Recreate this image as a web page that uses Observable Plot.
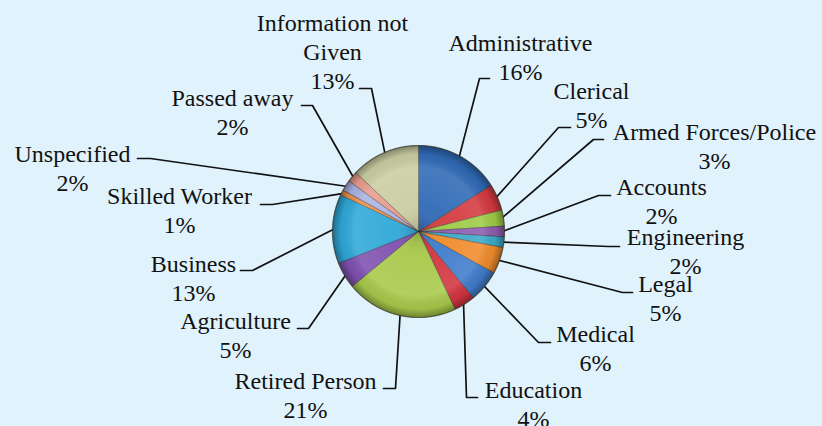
<!DOCTYPE html>
<html>
<head>
<meta charset="utf-8">
<script src="https://cdn.jsdelivr.net/npm/d3@7"></script>
<script src="https://cdn.jsdelivr.net/npm/@observablehq/plot@0.6"></script>
<style>
  html, body { margin: 0; padding: 0; background: #E0F2FC; font-family: "Liberation Serif", serif; }
  #chart { width: 822px; height: 426px; }
</style>
</head>
<body>
<div id="chart"></div>
<script>
// ---- data ----
const categories = ["Administrative", "Clerical", "Armed Forces/Police", "Accounts", "Engineering",
  "Legal", "Medical", "Education", "Retired Person", "Agriculture", "Business",
  "Skilled Worker", "Unspecified", "Passed away", "Information not Given"];
const shares = [16, 5, 3, 2, 2, 5, 6, 4, 21, 5, 13, 1, 2, 2, 13];
const labelLines = [["Administrative"], ["Clerical"], ["Armed Forces/Police"], ["Accounts"], ["Engineering"],
  ["Legal"], ["Medical"], ["Education"], ["Retired Person"], ["Agriculture"], ["Business"],
  ["Skilled Worker"], ["Unspecified"], ["Passed away"], ["Information not", "Given"]];
const sliceColors = ["#2F6AB6", "#D33A40", "#9DCB46", "#8E5CAE", "#3AA8C8",
  "#F08B2C", "#3F7CCB", "#D2343F", "#A8C94A", "#7F50AF", "#2FA8D8",
  "#E8914A", "#AAB2E2", "#E89C8C", "#CBCDA2"];

// ---- layout (pixel units of the 822x426 frame) ----
const pie = {cx: 418, cy: 231, r: 86};
const lineStep = 29;
// label anchor: x centre, y = baseline of last line
const labelAt = [[520, 79], [591, 127], [714, 168], [661, 223], [685, 273],
  [665, 320], [595, 370], [533, 426], [305, 417], [235, 357], [193, 300],
  [179, 232], [72, 190], [232, 134], [332, 88]];
// leader: elbow point and end of horizontal tick
const leaderElbow = [[479, 78], [558, 127], [593, 139], [598, 195], [608, 246],
  [622, 292], [538, 342], [466, 397], [395, 388], [308, 328], [252, 270],
  [272, 204], [150, 158], [312, 105], [371, 88]];
const leaderEnd = [[489, 78], [570, 127], [603, 139], [610, 195], [619, 246],
  [632, 292], [550, 342], [477, 397], [383, 388], [297, 328], [240, 270],
  [260, 204], [137, 158], [301, 105], [359, 88]];

const W = 822, H = 426;

// angles clockwise from 12 o'clock
const arcs = d3.pie().sort(null).value(d => d)(shares);
const pt = (a, r) => ({x: pie.cx + r * Math.sin(a), y: pie.cy - r * Math.cos(a)});

const slicePts = [];
arcs.forEach((a, i) => {
  const cat = categories[i];
  slicePts.push({cat, ...pt(0, 0)});
  const n = Math.max(2, Math.ceil((a.endAngle - a.startAngle) / (Math.PI / 180)));
  for (let k = 0; k <= n; k++) {
    const t = a.startAngle + (a.endAngle - a.startAngle) * k / n;
    slicePts.push({cat, ...pt(t, pie.r)});
  }
  slicePts.push({cat, ...pt(0, 0)});
});

const circlePts = d3.range(0, 361, 2).map(d => ({cat: "rim", ...pt(d * Math.PI / 180, pie.r)}));

const leaderPts = [];
arcs.forEach((a, i) => {
  const mid = (a.startAngle + a.endAngle) / 2;
  const cat = categories[i];
  leaderPts.push({cat, ...pt(mid, pie.r - 2)});
  leaderPts.push({cat, x: leaderElbow[i][0], y: leaderElbow[i][1]});
  leaderPts.push({cat, x: leaderEnd[i][0], y: leaderEnd[i][1]});
});

// one row per text line (name lines, then the percentage)
const labelRows = [];
categories.forEach((c, i) => {
  const lines = [...labelLines[i], shares[i] + "%"];
  lines.forEach((s, k) => {
    labelRows.push({label: s, x: labelAt[i][0], y: labelAt[i][1] - (lines.length - 1 - k) * lineStep});
  });
});

const chart = Plot.plot({
  width: W, height: H, margin: 0,
  x: {domain: [0, W], range: [0, W], axis: null},
  y: {domain: [0, H], range: [0, H], axis: null},
  color: {domain: categories, range: sliceColors},
  style: {background: "transparent"},
  marks: [
    Plot.line(leaderPts, {x: "x", y: "y", z: "cat", stroke: "#111", strokeWidth: 1.7, curve: "linear"}),
    Plot.line(slicePts, {x: "x", y: "y", z: "cat", fill: "cat", stroke: "rgba(30,30,30,0.45)", strokeWidth: 0.8}),
    Plot.line(circlePts, {x: "x", y: "y", fill: "url(#pieShade)", stroke: "rgba(60,60,40,0.55)", strokeWidth: 1.2}),
    Plot.text(labelRows, {x: "x", y: "y", text: "label", textAnchor: "middle", lineAnchor: "bottom",
      fontSize: 24, fontFamily: "Liberation Serif"})
  ]
});

// serif labels: set on every text node as an inline style as well
chart.setAttribute("font-family", "Liberation Serif");
chart.querySelectorAll("text").forEach(t => {
  t.style.fontFamily = "'Liberation Serif', serif";
  t.style.fontSize = "24px";
  t.setAttribute("fill", "#111");
});

// radial shading for a glossy 3D look
const ns = "http://www.w3.org/2000/svg";
const defs = document.createElementNS(ns, "defs");
const grad = document.createElementNS(ns, "radialGradient");
grad.setAttribute("id", "pieShade");
grad.setAttribute("cx", "50%"); grad.setAttribute("cy", "50%"); grad.setAttribute("r", "50%");
[["0%", "#000", 0.18], ["30%", "#fff", 0.05], ["75%", "#fff", 0.12], ["90%", "#000", 0.05], ["100%", "#000", 0.35]]
  .forEach(([o, c, op]) => {
    const s = document.createElementNS(ns, "stop");
    s.setAttribute("offset", o); s.setAttribute("stop-color", c); s.setAttribute("stop-opacity", op);
    grad.appendChild(s);
  });
defs.appendChild(grad);
chart.insertBefore(defs, chart.firstChild);

document.getElementById("chart").appendChild(chart);
</script>
</body>
</html>
